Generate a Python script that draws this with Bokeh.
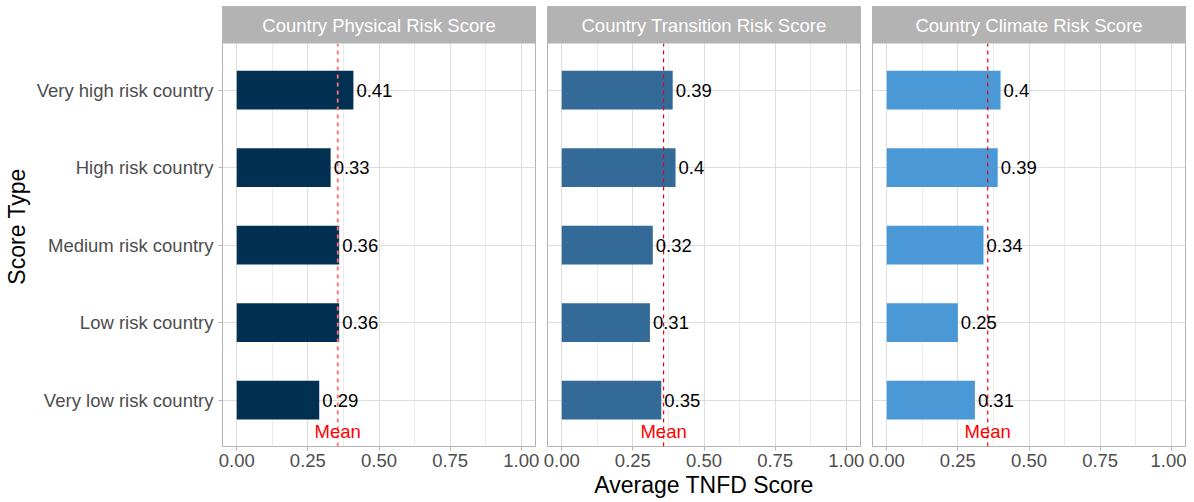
from bokeh.plotting import figure
from bokeh.layouts import row
from bokeh.models import Range1d, FixedTicker, NumeralTickFormatter
from bokeh.core.properties import value
from bokeh.embed import file_html
from bokeh.resources import INLINE

# ---------------- data ----------------
categories = ["Very high risk country", "High risk country", "Medium risk country",
              "Low risk country", "Very low risk country"]
panel_titles = ["Country Physical Risk Score", "Country Transition Risk Score",
                "Country Climate Risk Score"]
physical = [0.41, 0.33, 0.36, 0.36, 0.29]
transition = [0.39, 0.40, 0.32, 0.31, 0.35]
climate = [0.40, 0.39, 0.34, 0.25, 0.31]
panel_values = [physical, transition, climate]
means = [0.355, 0.358, 0.355]
x_ticks = [0.0, 0.25, 0.5, 0.75, 1.0]
x_minor = [0.125, 0.375, 0.625, 0.875]
x_title = "Average TNFD Score"
y_title = "Score Type"
mean_label = "Mean"

# ---------------- styles ----------------
FONT = "Liberation Sans"
bar_colors = ["#023052", "#336a98", "#4a99d6"]
mean_colors = ["#ff7070", "#e8000b", "#e8000b"]
mean_widths = [1.8, 1.2, 1.2]
STRIP = "#b3b3b3"
GRID = "#dedede"
MINOR = "#ebebeb"
TICK_FS = "18.5px"
TITLE_FS = "23px"

n = len(categories)
ypos = [float(n - i) for i in range(n)]
frame_w = 313
height = 500
top_border = 6
bottom_border = 54
strip_px = 37
panel_px = height - top_border - bottom_border - strip_px
ylo, yhi = 0.4, n + 0.6
y_end = yhi + strip_px * (yhi - ylo) / panel_px

figs = []
for k in range(3):
    left_b = 0 if k == 0 else 6
    right_b = 1 if k == 2 else 6
    p = figure(frame_width=frame_w, height=height, output_backend="svg",
               toolbar_location=None, x_range=Range1d(-0.05, 1.05),
               y_range=Range1d(ylo, y_end), min_border_left=left_b,
               min_border_right=right_b, min_border_top=top_border,
               min_border_bottom=bottom_border)
    p.background_fill_color = "white"
    p.border_fill_color = "white"
    p.outline_line_color = STRIP
    p.outline_line_width = 1

    # grids
    p.xgrid.ticker = FixedTicker(ticks=x_ticks, minor_ticks=x_minor)
    p.xgrid.grid_line_color = GRID
    p.xgrid.minor_grid_line_color = MINOR
    p.ygrid.ticker = FixedTicker(ticks=ypos)
    p.ygrid.grid_line_color = GRID

    # x axis
    xa = p.xaxis[0]
    xa.ticker = FixedTicker(ticks=x_ticks)
    xa.formatter = NumeralTickFormatter(format="0.00")
    xa.major_label_text_font = FONT
    xa.major_label_text_font_size = TICK_FS
    xa.major_label_text_color = "#4d4d4d"
    xa.major_label_standoff = 3
    xa.major_tick_line_color = STRIP
    xa.major_tick_out = 4
    xa.major_tick_in = 0
    xa.minor_tick_line_color = None
    xa.axis_line_color = None
    if k == 1:
        xa.axis_label = x_title
        xa.axis_label_text_font = FONT
        xa.axis_label_text_font_size = TITLE_FS
        xa.axis_label_text_font_style = "normal"
        xa.axis_label_text_color = "black"
        xa.axis_label_standoff = 2

    # y axis
    ya = p.yaxis[0]
    if k == 0:
        ya.ticker = FixedTicker(ticks=ypos)
        ya.major_label_overrides = {y: c for y, c in zip(ypos, categories)}
        ya.major_label_text_font = FONT
        ya.major_label_text_font_size = TICK_FS
        ya.major_label_text_color = "#4d4d4d"
        ya.major_label_standoff = 5
        ya.major_tick_line_color = STRIP
        ya.major_tick_out = 4
        ya.major_tick_in = 0
        ya.minor_tick_line_color = None
        ya.axis_line_color = None
        ya.axis_label = y_title
        ya.axis_label_text_font = FONT
        ya.axis_label_text_font_size = TITLE_FS
        ya.axis_label_text_font_style = "normal"
        ya.axis_label_text_color = "black"
        ya.axis_label_standoff = 4
    else:
        ya.visible = False

    vals = panel_values[k]
    p.hbar(y=ypos, right=vals, left=0, height=0.5, fill_color=bar_colors[k],
           line_color=None)
    p.segment(x0=[means[k]], x1=[means[k]], y0=[ylo], y1=[yhi],
              line_color=mean_colors[k], line_width=mean_widths[k], line_dash="4 4")
    p.text(x=vals, y=ypos, text=[f"{v:g}" for v in vals], x_offset=3,
           text_align="left", text_baseline="middle", text_font=value(FONT),
           text_font_size=TICK_FS, text_color="black")
    p.text(x=[means[k]], y=[0.59], text=[mean_label], text_align="center",
           text_baseline="middle", text_font=value(FONT), text_font_size=TICK_FS,
           text_color="#ff0000")

    # facet strip
    p.quad(left=[-0.06], right=[1.06], bottom=[yhi], top=[y_end + 0.05],
           fill_color=STRIP, line_color=None)
    p.text(x=[0.5], y=[(yhi + y_end) / 2], text=[panel_titles[k]],
           text_align="center", text_baseline="middle", text_font=value(FONT),
           text_font_size=TICK_FS, text_color="white")
    figs.append(p)

layout = row(*figs)
open("out.html", "w").write(file_html(layout, INLINE))
